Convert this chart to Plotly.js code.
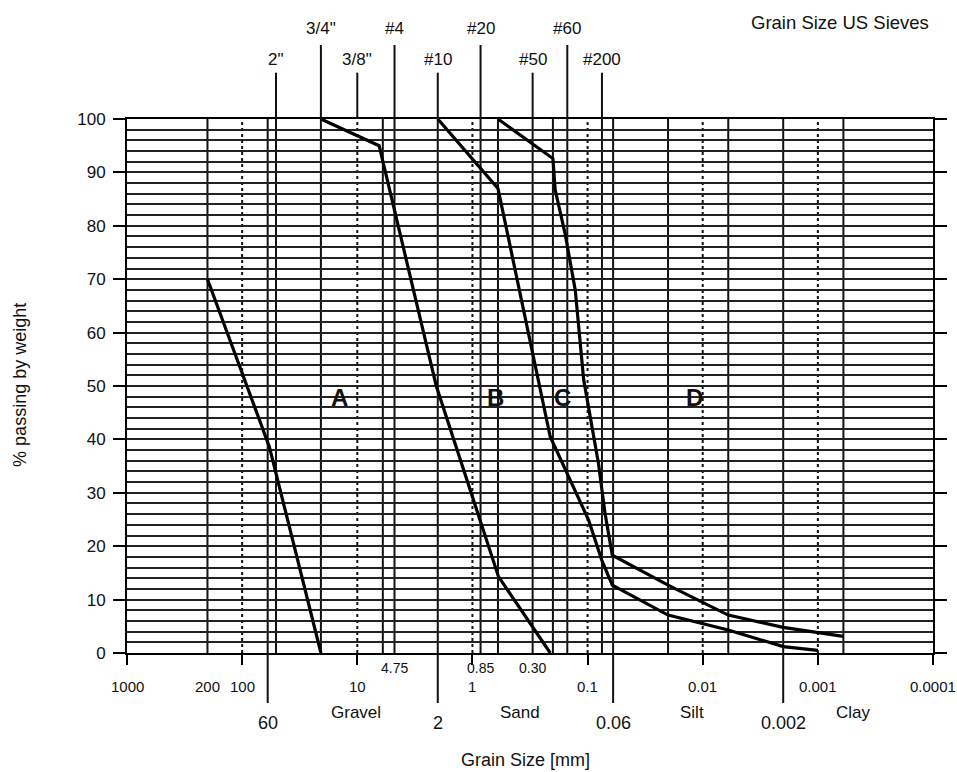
<!DOCTYPE html>
<html><head><meta charset="utf-8">
<script src="https://cdn.plot.ly/plotly-3.0.1.min.js"></script>
<style>html,body{margin:0;padding:0;background:#fff}</style>
</head><body><div id="chart" style="width:957px;height:772px"></div>
<script>
// ---- grading curves (grain size in mm, % passing) ----
const curve1Size = [200, 58, 20.7];
const curve1Pass = [70, 38.6, 0];
const curve2Size = [20.7, 6.46, 2.06, 0.594, 0.211];
const curve2Pass = [100, 95, 50, 14.3, 0];
const curve3Size = [2.0, 0.6, 0.211, 0.146, 0.098, 0.0753, 0.061, 0.02, 0.006, 0.002, 0.001];
const curve3Pass = [100, 87, 40.5, 33, 24.9, 17.4, 12.7, 7.1, 4.3, 1.2, 0.5];
const curve4Size = [0.6, 0.2, 0.191, 0.157, 0.128, 0.108, 0.0804, 0.0706, 0.061, 0.02, 0.006, 0.002, 0.0006];
const curve4Pass = [100, 92.6, 86.7, 78.6, 68, 51.1, 35.5, 26.2, 18.3, 12.7, 7.1, 4.8, 3.1];

// ---- grid lines (mm) ----
const decadeLines = [100, 10, 1, 0.1, 0.01, 0.001];
const solidLines = [200, 60, 50.8, 20.7, 6, 4.75, 2, 0.85, 0.6, 0.3, 0.2, 0.15, 0.075, 0.06, 0.02, 0.006, 0.002, 0.0006];

// ---- US sieves (top) ----
const sieveNames = ['2"', '3/4"', '3/8"', '#4', '#10', '#20', '#50', '#60', '#200'];
const sieveSizes = [50.8, 20.7, 10, 4.75, 2, 0.85, 0.3, 0.15, 0.075];

// ---- bottom axis labels ----
const decadeTickVals = [1000, 100, 10, 1, 0.1, 0.01, 0.001, 0.0001];
const decadeLabelVals = [1000, 200, 100, 10, 1, 0.1, 0.01, 0.001, 0.0001];
const decadeLabels = ['1000', '200', '100', '10', '1', '0.1', '0.01', '0.001', '0.0001'];
const sieveMmVals = [4.75, 0.85, 0.3];
const sieveMmLabels = ['4.75', '0.85', '0.30'];
const boundaryVals = [60, 2, 0.06, 0.002];
const boundaryLabels = ['60', '2', '0.06', '0.002'];
const classNames = ['Gravel', 'Sand', 'Silt', 'Clay'];
const classPos = [10.2, 0.39, 0.0125, 0.00049];
const zoneNames = ['A', 'B', 'C', 'D'];
const zonePos = [14.2, 0.627, 0.164, 0.0117];
const zoneLevel = 47.8;

const FONT = 'Liberation Sans, Arial, sans-serif';
const INK = '#111';
const lg = Math.log10;

const curveStyle = {color: '#000', width: 3.2};
const traces = [
  [curve1Size, curve1Pass], [curve2Size, curve2Pass],
  [curve3Size, curve3Pass], [curve4Size, curve4Pass]
].map(([x, y]) => ({x, y, type: 'scatter', mode: 'lines', line: curveStyle, hoverinfo: 'skip', showlegend: false}));

const shapes = [];
decadeLines.forEach(v => shapes.push({type: 'line', xref: 'x', yref: 'paper', x0: v, x1: v, y0: 0, y1: 1,
  line: {color: INK, width: 2, dash: 'dot'}, layer: 'below'}));
solidLines.forEach(v => shapes.push({type: 'line', xref: 'x', yref: 'paper', x0: v, x1: v, y0: 0, y1: 1,
  line: {color: INK, width: 2}, layer: 'below'}));
sieveSizes.forEach((v, i) => shapes.push({type: 'line', xref: 'x', yref: 'paper', x0: v, x1: v, y0: 1,
  y1: i % 2 ? 1.1386 : 1.0867, line: {color: INK, width: 2}}));
boundaryVals.forEach(v => shapes.push({type: 'line', xref: 'x', yref: 'paper', x0: v, x1: v, y0: 0, y1: -0.0936,
  line: {color: INK, width: 2}}));

const annotations = [];
const ann = (x, y, text, size, extra) => annotations.push(Object.assign({x, y, text, xref: 'x', yref: 'paper',
  showarrow: false, font: {family: FONT, size, color: INK}, xanchor: 'center', yanchor: 'middle'}, extra || {}));
sieveNames.forEach((t, i) => ann(lg(sieveSizes[i]), i % 2 ? 1.1698 : 1.1118, t, 17));
decadeLabels.forEach((t, i) => ann(lg(decadeLabelVals[i]), -0.0618, t, 15));
sieveMmLabels.forEach((t, i) => ann(lg(sieveMmVals[i]), -0.0281, t, 14));
boundaryLabels.forEach((t, i) => ann(lg(boundaryVals[i]), -0.131, t, 18));
classNames.forEach((t, i) => ann(lg(classPos[i]), -0.1105, t, 17));
zoneNames.forEach((t, i) => annotations.push({x: lg(zonePos[i]), y: zoneLevel, xref: 'x', yref: 'y', text: '<b>' + t + '</b>',
  showarrow: false, xanchor: 'center', yanchor: 'middle', font: {family: FONT, size: 24, color: INK}}));
const paperAnn = (x, y, text, size, extra) => annotations.push(Object.assign({x, y, text, xref: 'paper', yref: 'paper',
  showarrow: false, xanchor: 'center', yanchor: 'middle', font: {family: FONT, size, color: INK}}, extra || {}));
paperAnn(0.4938, -0.2004, 'Grain Size [mm]', 18);
paperAnn(-0.1328, 0.502, '% passing by weight', 18, {textangle: -90});
paperAnn(0.885, 1.1816, 'Grain Size US Sieves', 18.5);

const layout = {
  width: 957, height: 772,
  margin: {l: 127, r: 24, t: 119, b: 119},
  paper_bgcolor: '#fff', plot_bgcolor: '#fff',
  font: {family: FONT, color: INK},
  showlegend: false,
  xaxis: {type: 'log', range: [3, -4], autorange: false, showgrid: false, zeroline: false,
    showline: true, mirror: true, linecolor: '#000', linewidth: 2,
    ticks: 'outside', tickmode: 'array', tickvals: decadeTickVals, ticklen: 10, tickwidth: 2, tickcolor: '#000',
    showticklabels: false},
  yaxis: {range: [0, 100], autorange: false, tickmode: 'linear', tick0: 0, dtick: 10, zeroline: false,
    showline: true, mirror: 'ticks', linecolor: '#000', linewidth: 2,
    ticks: 'outside', ticklen: 12, tickwidth: 2, tickcolor: '#000', ticklabelstandoff: 4,
    tickfont: {family: FONT, size: 17, color: INK},
    showgrid: true, gridcolor: '#222', gridwidth: 2,
    minor: {dtick: 2, showgrid: true, gridcolor: '#222', gridwidth: 2}},
  shapes, annotations
};
Plotly.newPlot('chart', traces, layout, {displayModeBar: false, staticPlot: true});
</script></body></html>
